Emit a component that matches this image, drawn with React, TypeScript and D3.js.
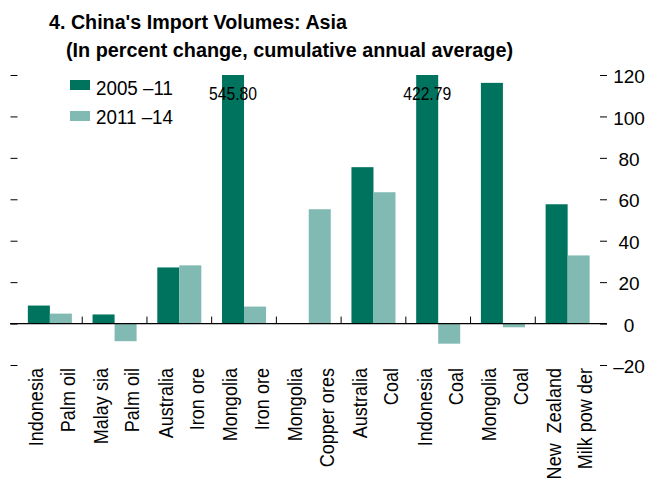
import { useEffect, useRef } from 'react'
import * as d3 from 'd3'

// Data
const countries = ['Indonesia', 'Malay sia', 'Australia', 'Mongolia', 'Mongolia', 'Australia', 'Indonesia', 'Mongolia', 'New  Zealand']
const products = ['Palm oil', 'Palm oil', 'Iron ore', 'Iron ore', 'Copper ores', 'Coal', 'Coal', 'Coal', 'Milk pow der']
const seriesNames = ['2005 –11', '2011 –14']
const values0511 = [8.7, 4.4, 27.1, 545.8, null, 75.5, 422.79, 116.2, 57.6]
const values1114 = [4.8, -8.5, 28.1, 8.2, 55.2, 63.4, -9.7, -1.8, 32.9]
const yTicks = [-20, 0, 20, 40, 60, 80, 100, 120]

const colors = ['#00735f', '#80bab2']
const font = '"Liberation Sans", Arial, sans-serif'

const App = () => {
	const svgRef = useRef(null)

	useEffect(() => {
		const width = 646
		const height = 480
		const left = 17.5
		const right = 600
		const yMin = -20
		const yMax = 120

		const svg = d3.select(svgRef.current)
		svg.selectAll('*').remove()
		svg.attr('width', width).attr('height', height).attr('viewBox', `0 0 ${width} ${height}`)

		const groupIds = d3.range(countries.length)
		const x0 = d3.scaleBand().domain(groupIds).range([left, right]).paddingInner(0)
		const x1 = d3.scaleBand().domain([0, 1]).range([0, x0.bandwidth()]).paddingInner(0).paddingOuter(0.47)
		const y = d3.scaleLinear().domain([yMin, yMax]).range([365, 75])

		// Title (condensed look via textLength)
		svg.append('text')
			.attr('x', 49).attr('y', 29)
			.attr('textLength', 298).attr('lengthAdjust', 'spacingAndGlyphs')
			.style('font-family', font).style('font-weight', 'bold').style('font-size', '20px')
			.text("4. China's Import Volumes: Asia")
		svg.append('text')
			.attr('x', 66).attr('y', 57)
			.attr('textLength', 447).attr('lengthAdjust', 'spacingAndGlyphs')
			.style('font-family', font).style('font-weight', 'bold').style('font-size', '20px')
			.text('(In percent change, cumulative annual average)')

		// Bars
		const rows = groupIds.map((i) => [values0511[i], values1114[i]])
		const g = svg.append('g')
		rows.forEach((vals, i) => {
			vals.forEach((v, s) => {
				if (v === null) return
				const c = Math.max(yMin, Math.min(yMax, v))
				g.append('rect')
					.attr('x', x0(i) + x1(s))
					.attr('width', x1.bandwidth())
					.attr('y', y(Math.max(0, c)))
					.attr('height', Math.abs(y(c) - y(0)))
					.attr('fill', colors[s])
				if (v > yMax) {
					g.append('text')
						.attr('x', x0(i) + x1(s) + x1.bandwidth() / 2)
						.attr('y', 100)
						.attr('text-anchor', 'middle')
						.attr('textLength', 48).attr('lengthAdjust', 'spacingAndGlyphs')
						.style('font-family', font).style('font-size', '18px')
						.text(v.toFixed(2))
				}
			})
		})

		// Zero line and group separators
		svg.append('line')
			.attr('x1', 10).attr('x2', 607)
			.attr('y1', y(0)).attr('y2', y(0))
			.attr('stroke', '#000').attr('stroke-width', 1.2)
		groupIds.slice(1).forEach((i) => {
			svg.append('line')
				.attr('x1', x0(i)).attr('x2', x0(i))
				.attr('y1', y(0)).attr('y2', y(0) - 7)
				.attr('stroke', '#000').attr('stroke-width', 1)
		})

		// Left axis (ticks only)
		const leftAxis = svg.append('g')
			.attr('transform', `translate(${left},0)`)
			.call(d3.axisLeft(y).tickValues(yTicks).tickSize(7).tickFormat(() => ''))
		leftAxis.select('.domain').remove()

		// Right axis
		const rightAxis = svg.append('g')
			.attr('transform', `translate(${right},0)`)
			.call(d3.axisRight(y).tickValues(yTicks).tickSize(7)
				.tickFormat((d) => (d < 0 ? '–' + Math.abs(d) : String(d))))
		rightAxis.select('.domain').remove()
		rightAxis.selectAll('text')
			.attr('x', 29).attr('dy', '0.4em')
			.attr('text-anchor', 'middle')
			.style('font-family', font).style('font-size', '19px')
			.attr('fill', '#000')

		// Category labels (rotated, horizontally condensed)
		const labels = []
		groupIds.forEach((i) => {
			labels.push({ text: countries[i], x: x0(i) + x0.bandwidth() * 0.25 + 2 })
			labels.push({ text: products[i], x: x0(i) + x0.bandwidth() * 0.75 + 1 })
		})
		svg.append('g')
			.selectAll('text')
			.data(labels)
			.join('text')
			.attr('transform', (d) => `translate(${d.x},368) rotate(-90) scale(0.86,1)`)
			.attr('text-anchor', 'end')
			.attr('dy', '0.36em')
			.style('font-family', font).style('font-size', '21px')
			.style('white-space', 'pre')
			.text((d) => d.text)

		// Legend
		const legend = svg.append('g')
		seriesNames.forEach((name, s) => {
			legend.append('rect')
				.attr('x', 70).attr('y', 80 + s * 31)
				.attr('width', 20).attr('height', 10)
				.attr('fill', colors[s])
			legend.append('text')
				.attr('x', 96).attr('y', 95 + s * 29)
				.attr('textLength', 77).attr('lengthAdjust', 'spacingAndGlyphs')
				.style('font-family', font).style('font-size', '20px')
				.text(name)
		})
	}, [])

	return <svg ref={svgRef} style={{ position: 'absolute', left: 0, top: 0, background: '#fff' }}></svg>
}

export default App
